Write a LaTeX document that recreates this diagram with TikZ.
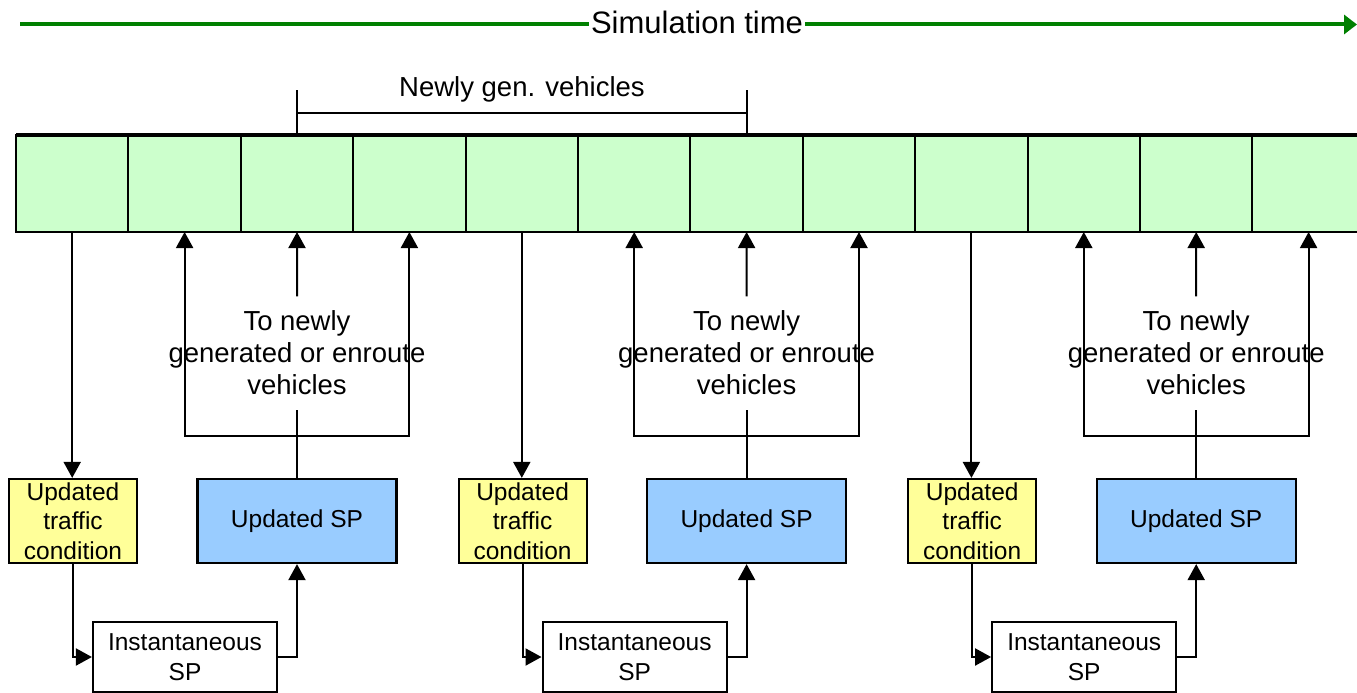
\documentclass[tikz,border=0pt]{standalone}
\usepackage{fontspec}
\setmainfont{Liberation Sans}
\usetikzlibrary{arrows.meta,calc}
\definecolor{cellgreen}{HTML}{CCFFCC}
\definecolor{tryellow}{HTML}{FFFF99}
\definecolor{spblue}{HTML}{99CCFF}
\definecolor{timegreen}{HTML}{008000}

\begin{document}
\begin{tikzpicture}[x=1pt,y=-1pt,
  line width=2pt,
  cell/.style={draw, fill=cellgreen, minimum width=112.4pt, minimum height=97pt,
    inner sep=0pt, outer sep=0pt},
  box/.style={draw, line width=2.2pt, inner sep=0pt, align=center,
    font=\fontsize{24.5}{29.5}\selectfont},
  ybox/.style={box, fill=tryellow, minimum width=128pt, minimum height=84pt},
  bbox/.style={box, fill=spblue, minimum width=199pt, minimum height=84pt},
  wbox/.style={box, fill=white, minimum width=184pt, minimum height=70pt},
  lbl/.style={align=center, inner xsep=0pt, inner ysep=13.5pt,
    font=\fontsize{27.5}{32}\selectfont},
  arr/.style={-{Triangle[length=16pt,width=17pt]}},
]
\useasboundingbox (0,0) rectangle (1357,693);
\clip (0,0) rectangle (1357,693);

% simulation time axis
\node[inner xsep=1pt, inner ysep=0pt, font=\fontsize{31}{36}\selectfont] (title) at (697,22) {Simulation time};
\coordinate (tstart) at (20,24.5);
\coordinate (tend) at (1357,24.5);
\draw[timegreen, line width=4pt] (tstart) -- (tstart -| title.west);
\draw[timegreen, line width=4pt, -{Triangle[length=13pt,width=19pt]}] (title.east |- tend) -- (tend);

% time-step cells
\foreach \i in {1,...,12}{
  \node[cell] (c\i) at ({16+112.4*(\i-1)+56.2},183.5) {};
}
\draw[line width=3.5pt] (c1.north west) -- (c12.north east);

% bracket over the newly generated vehicles
\draw[line width=1.8pt] (c3.north) -- ++(0,-45);
\draw[line width=1.8pt] (c7.north) -- ++(0,-45);
\draw[line width=1.8pt] ($(c3.north)+(0,-22)$) -- ($(c7.north)+(0,-22)$);
\node[font=\fontsize{27.5}{32}\selectfont] (newgen) at (522,89) {Newly gen. vehicles};

% three update cycles
\foreach \k in {0,1,2}{
  \pgfmathsetmacro\o{449.6*\k}
  \pgfmathtruncatemacro\cd{1+4*\k}
  \pgfmathtruncatemacro\ca{2+4*\k}
  \pgfmathtruncatemacro\cb{3+4*\k}
  \pgfmathtruncatemacro\cc{4+4*\k}
  \node[ybox] (y\k) at ({73+\o},521) {Updated\\traffic\\condition};
  \node[bbox] (b\k) at ({297+\o},521) {Updated SP};
  \node[wbox] (w\k) at ({185+\o},657) {Instantaneous\\SP};
  \node[lbl] (t\k) at ({297+\o},353) {To newly\\generated or enroute\\vehicles};
  \coordinate (j\k) at ({297+\o},436);
  \draw[arr] (c\cd.south) -- (c\cd.south |- y\k.north);
  \draw[arr] (y\k.south) |- (w\k.west);
  \draw[arr] (w\k.east) -| (b\k.south);
  \draw (b\k.north) -- (j\k) -- (t\k.south);
  \draw[arr] (t\k.north) -- (c\cb.south);
  \draw[arr] (j\k) -| (c\ca.south);
  \draw[arr] (j\k) -| (c\cc.south);
}
\end{tikzpicture}
\end{document}
